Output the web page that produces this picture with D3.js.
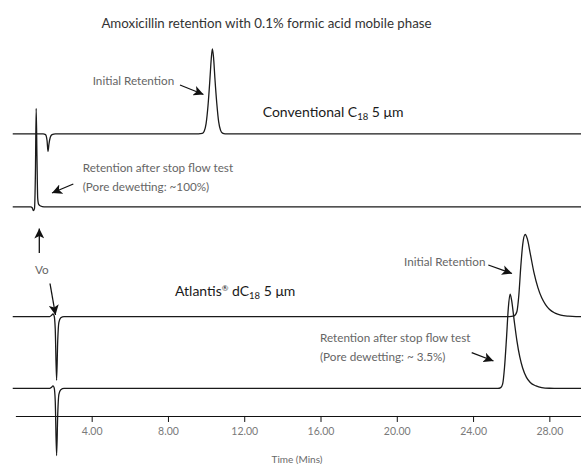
<!DOCTYPE html>
<html>
<head>
<meta charset="utf-8">
<script src="https://cdn.jsdelivr.net/npm/d3@7"></script>
<style>
    body { margin: 0; background: #fff; }
    svg { display: block; font-family: Lato, "Open Sans", sans-serif; }
</style>
</head>
<body>
<div id="chart"></div>
<script>
// tick values of the time axis (minutes)
var timeTicks = [4, 8, 12, 16, 20, 24, 28];

// chromatogram traces, [time (min), signal]
var convInitial = [
    [-0.14, 0], [1.45, 0], [1.58, -1], [1.66, -8], [1.71, -20.8], [1.76, -12], [1.83, -4], [1.92, -1], [2.1, 0],
    [9.6, 0], [9.8, 0.5], [9.9, 3], [10.0, 12], [10.1, 33], [10.2, 64], [10.27, 88], [10.33, 100],
    [10.39, 90], [10.46, 66], [10.56, 36], [10.66, 14], [10.76, 4], [10.86, 0.8], [11.0, 0], [29.7, 0]
];
var convStopFlow = [
    [-0.14, 0], [0.8, 0], [0.88, -1], [0.94, -4.4], [1.0, -2], [1.05, 40], [1.09, 116],
    [1.13, 60], [1.17, 10], [1.22, 3], [1.32, 1], [1.5, 0], [29.7, 0]
];
var atlInitial = [
    [-0.14, 0], [1.8, 0], [1.9, 1.5], [1.97, 3], [2.03, 1], [2.09, -15], [2.16, -75], [2.22, -28],
    [2.28, -7], [2.38, -1.5], [2.55, 0],
    [25.9, 0], [26.15, 0.8], [26.3, 6], [26.4, 25], [26.5, 58], [26.6, 84], [26.73, 96.5],
    [26.85, 91], [27.0, 74], [27.2, 51], [27.4, 34], [27.6, 22], [27.8, 14], [28.0, 8.5],
    [28.3, 4], [28.6, 1.6], [29.0, 0.4], [29.4, 0], [29.7, 0]
];
var atlStopFlow = [
    [-0.14, 0], [1.8, 0], [1.9, 1.5], [1.97, 3], [2.03, 1], [2.09, -15], [2.16, -79], [2.22, -30],
    [2.28, -7], [2.38, -1.5], [2.55, 0],
    [25.3, 0], [25.45, 1], [25.55, 5], [25.65, 25], [25.75, 58], [25.85, 95], [25.94, 111],
    [26.02, 104], [26.15, 81], [26.3, 56], [26.45, 37], [26.6, 24], [26.8, 13], [27.0, 7],
    [27.3, 3], [27.6, 1], [28.0, 0.2], [28.5, 0], [29.7, 0]
];

var ctx = {
    w: 581,
    h: 464
};

var svg = d3.select("#chart").append("svg")
    .attr("width", ctx.w)
    .attr("height", ctx.h);

svg.append("defs").append("marker")
    .attr("id", "head")
    .attr("viewBox", "0 0 10 10")
    .attr("refX", 10)
    .attr("refY", 5)
    .attr("markerWidth", 10)
    .attr("markerHeight", 10)
    .attr("markerUnits", "userSpaceOnUse")
    .attr("orient", "auto")
    .append("path")
    .attr("d", "M0,0L10,5L0,10L2.5,5Z")
    .style("fill", "#111");

var x = d3.scaleLinear().domain([0, 29.66]).range([15.4, 581]);
var y = d3.scaleLinear().domain([-56.5, 489.4]).range([464, 0]);

// stacking offset of each trace, signal units
var traces = [
    {data: convInitial, offset: 332},
    {data: convStopFlow, offset: 246},
    {data: atlInitial, offset: 117},
    {data: atlStopFlow, offset: 32.4}
];

// axis
var axis = d3.axisBottom(x)
    .tickValues(timeTicks)
    .tickFormat(d3.format(".2f"))
    .tickSize(6)
    .tickSizeOuter(0)
    .tickPadding(6);

var gAxis = svg.append("g")
    .attr("transform", "translate(0," + y(0) + ")")
    .call(axis);
gAxis.select(".domain").style("stroke", "#111").style("stroke-width", 1.1);
gAxis.selectAll(".tick line").style("stroke", "#111");
gAxis.selectAll(".tick text")
    .style("fill", "#7a7a7a")
    .style("font-size", "10.5px")
    .style("font-family", "Lato, sans-serif");

svg.append("text")
    .attr("x", 297)
    .attr("y", 463)
    .attr("text-anchor", "middle")
    .style("fill", "#6a6a6a")
    .style("font-size", "10px")
    .text("Time (Mins)");

// traces
traces.forEach(function (t) {
    var line = d3.line()
        .x(function (d) { return x(d[0]); })
        .y(function (d) { return y(t.offset + d[1]); })
        .curve(d3.curveMonotoneX);
    svg.append("path")
        .datum(t.data)
        .attr("d", line)
        .style("fill", "none")
        .style("stroke", "#1a1a1a")
        .style("stroke-width", 1.3);
});

// title
svg.append("text")
    .attr("x", 266.5)
    .attr("y", 28)
    .attr("text-anchor", "middle")
    .style("fill", "#333")
    .style("font-size", "13.3px")
    .text("Amoxicillin retention with 0.1% formic acid mobile phase");

var note = function (xx, yy, txt) {
    svg.append("text")
        .attr("x", xx)
        .attr("y", yy)
        .style("fill", "#666")
        .style("font-size", "11.7px")
        .text(txt);
};
var arrow = function (x1, y1, x2, y2) {
    svg.append("line")
        .attr("x1", x1).attr("y1", y1)
        .attr("x2", x2).attr("y2", y2)
        .style("stroke", "#111")
        .style("stroke-width", 1.3)
        .attr("marker-end", "url(#head)");
};

note(92.7, 84.6, "Initial Retention");
arrow(180, 85, 203.5, 94.5);
note(82.7, 172, "Retention after stop flow test");
note(82.7, 191, "(Pore dewetting: ~100%)");
arrow(73.3, 184, 52, 193);

arrow(39.3, 253, 39.3, 228.5);
note(35, 273.5, "Vo");
arrow(50, 283.5, 55.5, 315);

note(404, 265.6, "Initial Retention");
arrow(488.3, 265, 512, 273.5);
note(320, 342.3, "Retention after stop flow test");
note(320, 361.3, "(Pore dewetting: ~ 3.5%)");
arrow(471.7, 352.7, 493.5, 361);

var column = function (xx, yy, parts) {
    var t = svg.append("text")
        .attr("x", xx)
        .attr("y", yy)
        .style("fill", "#1a1a1a")
        .style("font-size", "14px");
    parts.forEach(function (p) {
        var s = t.append("tspan").text(p.t);
        if (p.sub) s.attr("dy", 3).style("font-size", "9.5px");
        if (p.sup) s.attr("dy", -5).style("font-size", "8px");
        if (p.back) s.attr("dy", p.back);
    });
};
column(262.7, 116.5, [{t: "Conventional C"}, {t: "18", sub: true}, {t: " 5 μm", back: -3}]);
column(175, 296, [{t: "Atlantis"}, {t: "®", sup: true}, {t: " dC", back: 5}, {t: "18", sub: true}, {t: " 5 μm", back: -3}]);
</script>
</body>
</html>
